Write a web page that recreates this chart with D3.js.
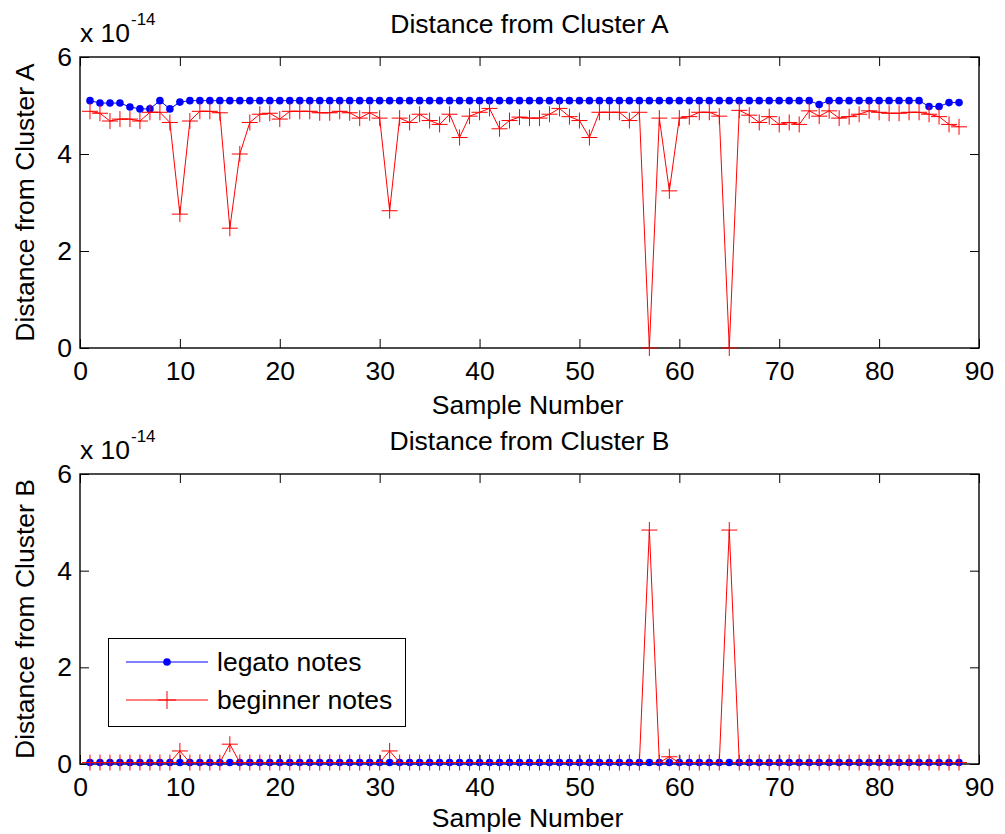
<!DOCTYPE html>
<html>
<head>
<meta charset="utf-8">
<script src="https://cdn.jsdelivr.net/npm/d3@7"></script>
<style>
  html, body { margin: 0; padding: 0; background: #fff; }
  svg text { font-family: "Liberation Sans", Arial, Helvetica, sans-serif; fill: #000; }
</style>
</head>
<body>
<svg id="chart" width="1005" height="834"></svg>
<script>
const sampleNumbers = [1,2,3,4,5,6,7,8,9,10,11,12,13,14,15,16,17,18,19,20,21,22,23,24,25,26,27,28,29,30,
  31,32,33,34,35,36,37,38,39,40,41,42,43,44,45,46,47,48,49,50,51,52,53,54,55,56,57,58,59,60,
  61,62,63,64,65,66,67,68,69,70,71,72,73,74,75,76,77,78,79,80,81,82,83,84,85,86,87,88];

// values in units of 1e-14
const legatoA = [5.10,5.05,5.05,5.05,4.97,4.93,4.93,5.10,4.93,5.07,
  5.10,5.10,5.10,5.10,5.10,5.10,5.10,5.10,5.10,5.10,
  5.10,5.10,5.10,5.10,5.10,5.10,5.10,5.10,5.10,5.10,
  5.10,5.10,5.10,5.10,5.10,5.10,5.10,5.10,5.10,5.10,
  5.10,5.10,5.10,5.10,5.10,5.10,5.10,5.10,5.10,5.10,
  5.10,5.10,5.10,5.10,5.10,5.10,5.10,5.10,5.10,5.10,
  5.10,5.10,5.10,5.10,5.10,5.10,5.10,5.10,5.10,5.10,
  5.10,5.10,5.10,5.02,5.10,5.10,5.10,5.10,5.10,5.10,
  5.10,5.10,5.10,5.10,4.98,4.98,5.06,5.06];

const beginnerA = [4.88,4.84,4.68,4.72,4.72,4.68,4.86,4.86,4.65,2.76,
  4.68,4.88,4.88,4.85,2.47,4.00,4.65,4.82,4.84,4.72,
  4.88,4.88,4.88,4.85,4.85,4.88,4.85,4.74,4.85,4.74,
  2.83,4.74,4.65,4.82,4.69,4.61,4.82,4.34,4.78,4.86,
  4.94,4.52,4.69,4.76,4.74,4.74,4.82,4.94,4.77,4.69,
  4.34,4.86,4.86,4.86,4.69,4.86,0.00,4.74,3.24,4.74,
  4.77,4.86,4.86,4.78,0.00,4.90,4.80,4.65,4.77,4.61,
  4.65,4.61,4.89,4.78,4.89,4.74,4.77,4.82,4.89,4.86,
  4.84,4.84,4.86,4.86,4.82,4.77,4.61,4.56];

const legatoB = [0.03,0.03,0.03,0.03,0.03,0.03,0.03,0.03,0.03,0.03,
  0.03,0.03,0.03,0.03,0.03,0.03,0.03,0.03,0.03,0.03,
  0.03,0.03,0.03,0.03,0.03,0.03,0.03,0.03,0.03,0.03,
  0.03,0.03,0.03,0.03,0.03,0.03,0.03,0.03,0.03,0.03,
  0.03,0.03,0.03,0.03,0.03,0.03,0.03,0.03,0.03,0.03,
  0.03,0.03,0.03,0.03,0.03,0.03,0.03,0.03,0.03,0.03,
  0.03,0.03,0.03,0.03,0.03,0.03,0.03,0.03,0.03,0.03,
  0.03,0.03,0.03,0.03,0.03,0.03,0.03,0.03,0.03,0.03,
  0.03,0.03,0.03,0.03,0.03,0.03,0.03,0.03];

const beginnerB = [0.03,0.03,0.03,0.03,0.03,0.03,0.03,0.03,0.03,0.27,
  0.03,0.03,0.03,0.03,0.41,0.03,0.03,0.03,0.03,0.03,
  0.03,0.03,0.03,0.03,0.03,0.03,0.03,0.03,0.03,0.03,
  0.27,0.03,0.03,0.03,0.03,0.03,0.03,0.03,0.03,0.03,
  0.03,0.03,0.03,0.03,0.03,0.03,0.03,0.03,0.03,0.03,
  0.03,0.03,0.03,0.03,0.03,0.03,4.84,0.03,0.15,0.03,
  0.03,0.03,0.03,0.03,4.84,0.03,0.03,0.03,0.03,0.03,
  0.03,0.03,0.03,0.03,0.03,0.03,0.03,0.03,0.03,0.03,
  0.03,0.03,0.03,0.03,0.03,0.03,0.03,0.03];

const xTicks = [0,10,20,30,40,50,60,70,80,90];
const yTicks = [0,2,4,6];
const seriesNames = ["legato notes", "beginner notes"];
const titles = ["Distance from Cluster A", "Distance from Cluster B"];
const yLabels = ["Distance from Cluster A", "Distance from Cluster B"];
const xLabel = "Sample Number";
const exponentLabel = "-14";

const svg = d3.select("#chart");
const FS = 26.5;
const BLUE = "#0000ff", RED = "#ff0000";

const panels = [
  {top: 57, bottom: 348, a: legatoA, b: beginnerA, title: titles[0], ylab: yLabels[0], legend: false, xlabOff: 66},
  {top: 474, bottom: 764, a: legatoB, b: beginnerB, title: titles[1], ylab: yLabels[1], legend: true, xlabOff: 63}
];
const left = 80, right = 979;

function crossPath(s) {
  return `M${-s},0H${s}M0,${-s}V${s}`;
}

panels.forEach(p => {
  const x = d3.scaleLinear().domain([0, 90]).range([left, right]);
  const y = d3.scaleLinear().domain([0, 6]).range([p.bottom, p.top]);
  const g = svg.append("g");

  // axes box
  g.append("rect").attr("x", left).attr("y", p.top)
    .attr("width", right - left).attr("height", p.bottom - p.top)
    .attr("fill", "none").attr("stroke", "#000").attr("stroke-width", 1.4);

  const tl = 9;
  // bottom axis (ticks inside)
  const xb = d3.axisBottom(x).tickValues(xTicks).tickSize(-tl).tickPadding(14).tickFormat(d3.format("d"));
  const gxb = g.append("g").attr("transform", `translate(0,${p.bottom})`).call(xb);
  gxb.select(".domain").remove();
  gxb.selectAll("line").attr("stroke", "#000");
  gxb.selectAll("text").attr("font-size", FS).attr("dy", "0.71em").attr("y", 13)
     .style("font-family", '"Liberation Sans", Arial, sans-serif');
  // top axis ticks
  const xt = d3.axisTop(x).tickValues(xTicks).tickSize(-tl).tickFormat("");
  const gxt = g.append("g").attr("transform", `translate(0,${p.top})`).call(xt);
  gxt.select(".domain").remove();
  gxt.selectAll("line").attr("stroke", "#000");
  // left axis
  const yl = d3.axisLeft(y).tickValues(yTicks).tickSize(-tl).tickPadding(8).tickFormat(d3.format("d"));
  const gyl = g.append("g").attr("transform", `translate(${left},0)`).call(yl);
  gyl.select(".domain").remove();
  gyl.selectAll("line").attr("stroke", "#000");
  gyl.selectAll("text").attr("font-size", FS).attr("x", -8)
     .style("font-family", '"Liberation Sans", Arial, sans-serif');
  // right axis ticks
  const yr = d3.axisRight(y).tickValues(yTicks).tickSize(-tl).tickFormat("");
  const gyr = g.append("g").attr("transform", `translate(${right},0)`).call(yr);
  gyr.select(".domain").remove();
  gyr.selectAll("line").attr("stroke", "#000");

  // title
  g.append("text").attr("x", (left + right) / 2).attr("y", p.top - 24)
    .attr("text-anchor", "middle").attr("font-size", FS).text(p.title);
  // x label
  g.append("text").attr("x", (left + right) / 2 - 2).attr("y", p.bottom + p.xlabOff)
    .attr("text-anchor", "middle").attr("font-size", FS).text(xLabel);
  // y label
  g.append("text").attr("transform", `translate(34,${(p.top + p.bottom) / 2}) rotate(-90)`)
    .attr("text-anchor", "middle").attr("font-size", FS).text(p.ylab);
  // exponent
  const ex = g.append("text").attr("x", left).attr("y", p.top - 15).attr("font-size", FS);
  ex.append("tspan").text("x 10");
  g.append("text").attr("x", left + 51).attr("y", p.top - 32).attr("font-size", 17).text(exponentLabel);

  // series
  const line = (vals) => d3.line().x((d, i) => x(sampleNumbers[i])).y(d => y(d))(vals);
  g.append("path").attr("d", line(p.a)).attr("fill", "none").attr("stroke", BLUE).attr("stroke-width", 1);
  g.selectAll("circle.a").data(p.a).join("circle").attr("class", "a")
    .attr("cx", (d, i) => x(sampleNumbers[i])).attr("cy", d => y(d)).attr("r", 3.8).attr("fill", BLUE);

  g.append("path").attr("d", line(p.b)).attr("fill", "none").attr("stroke", RED).attr("stroke-width", 1);
  g.selectAll("path.b").data(p.b).join("path").attr("class", "b")
    .attr("transform", (d, i) => `translate(${x(sampleNumbers[i])},${y(d)})`)
    .attr("d", crossPath(8)).attr("fill", "none").attr("stroke", RED).attr("stroke-width", 1);

  if (p.legend) {
    const lg = svg.append("g");
    lg.append("rect").attr("x", 108.5).attr("y", 638.5).attr("width", 297).attr("height", 88)
      .attr("fill", "#fff").attr("stroke", "#000").attr("stroke-width", 1);
    const rows = [{y: 662, color: BLUE, name: seriesNames[0], mark: "dot"},
                  {y: 700, color: RED, name: seriesNames[1], mark: "cross"}];
    rows.forEach(r => {
      lg.append("line").attr("x1", 126).attr("x2", 208).attr("y1", r.y).attr("y2", r.y)
        .attr("stroke", r.color).attr("stroke-width", 1);
      if (r.mark === "dot") {
        lg.append("circle").attr("cx", 167).attr("cy", r.y).attr("r", 3.8).attr("fill", r.color);
      } else {
        lg.append("path").attr("transform", `translate(167,${r.y})`).attr("d", crossPath(9))
          .attr("stroke", r.color).attr("fill", "none").attr("stroke-width", 1);
      }
      lg.append("text").attr("x", 217).attr("y", r.y + 9).attr("font-size", FS).text(r.name);
    });
  }
});
</script>
</body>
</html>
